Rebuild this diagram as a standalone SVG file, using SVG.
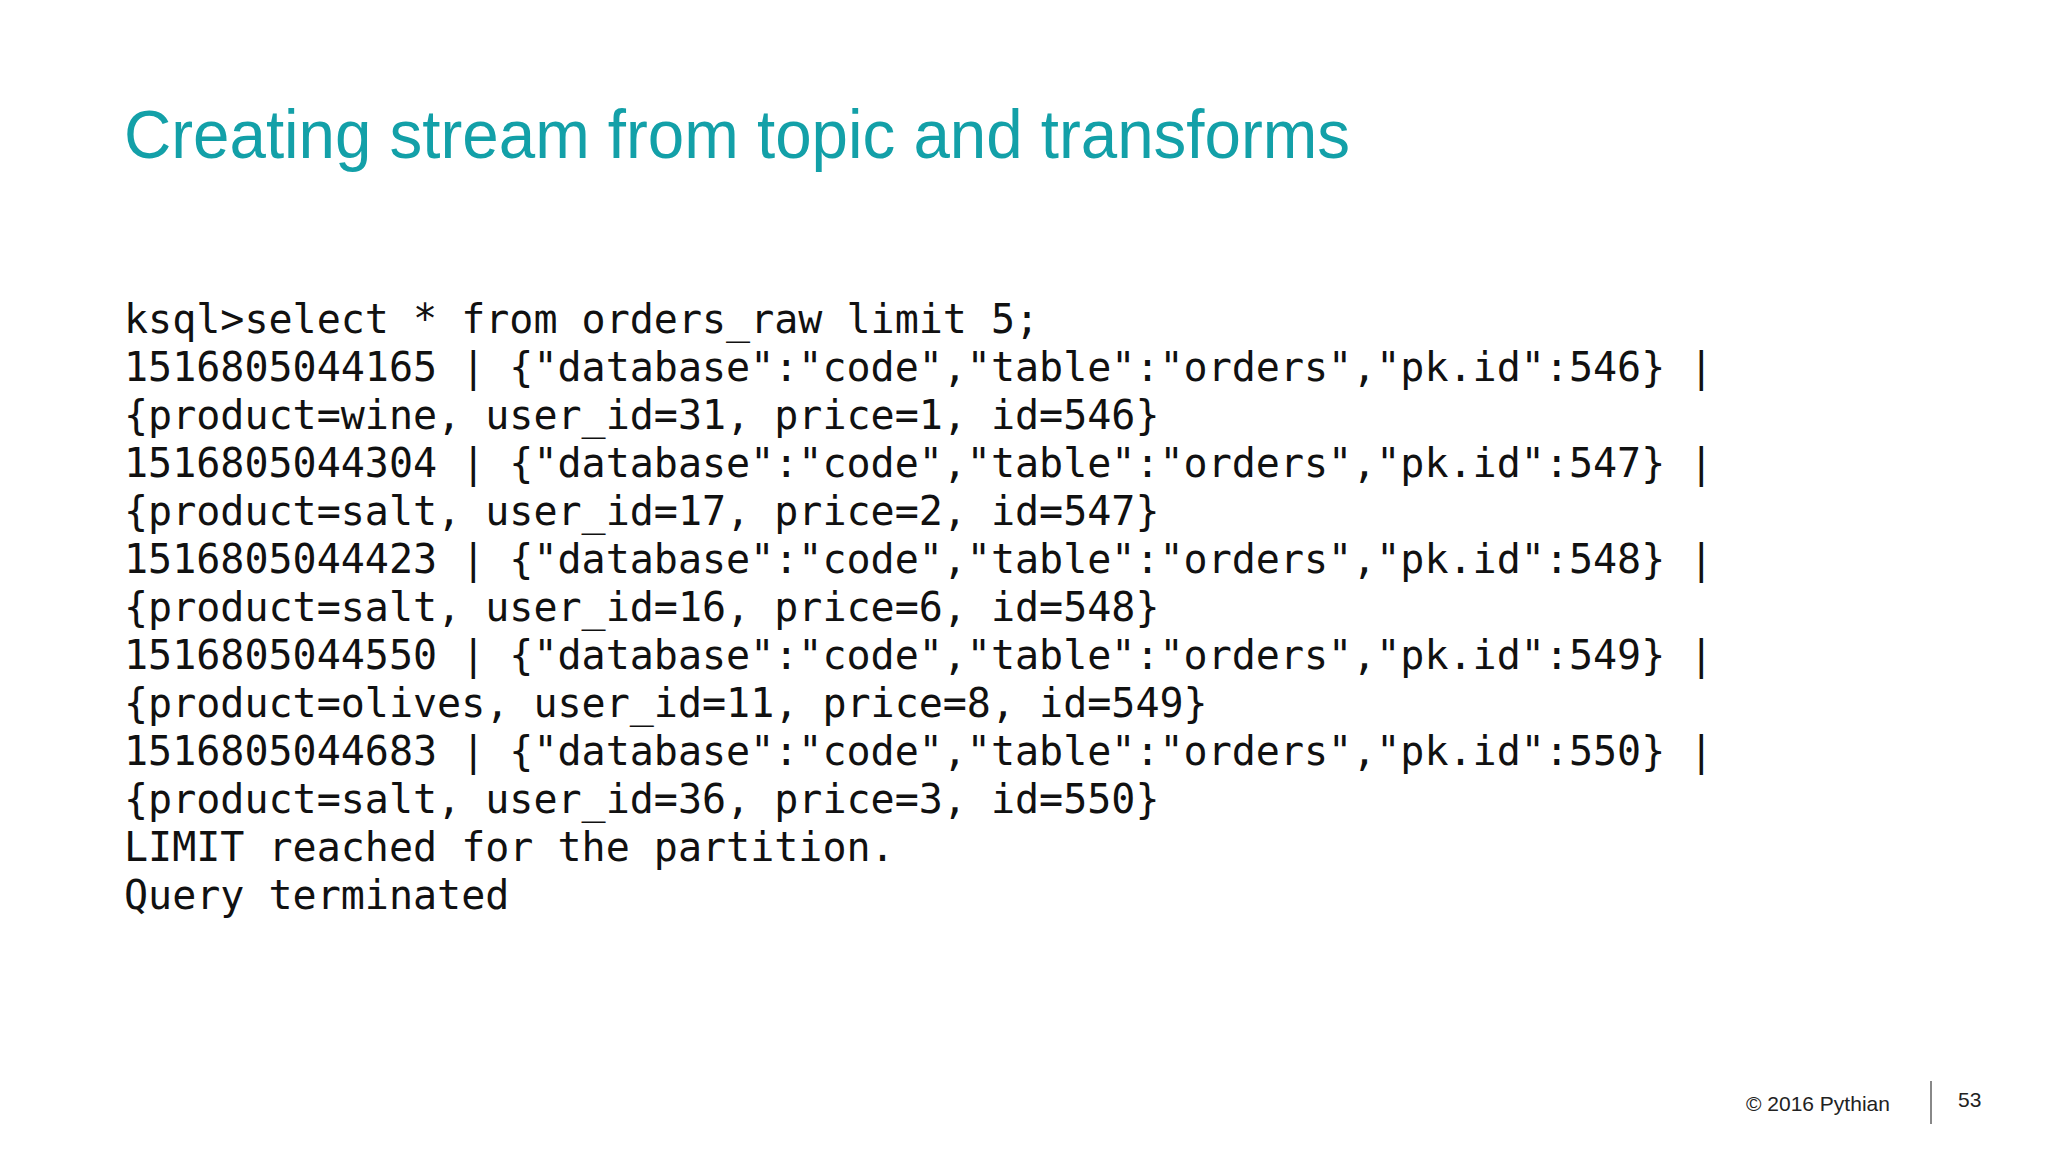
<svg xmlns="http://www.w3.org/2000/svg" width="2048" height="1152" viewBox="0 0 2048 1152">
<style>
.code{font-family:"DejaVu Sans Mono",monospace;font-size:40px;fill:#111}
.foot{font-family:"Liberation Sans",Arial,sans-serif;font-size:21px;fill:#222}
</style>
<rect width="2048" height="1152" fill="#fff"/>
<g id="title"><text x="124" y="158" font-family="Liberation Sans, Arial, sans-serif" font-size="68" fill="#13a0a8" textLength="1226" lengthAdjust="spacingAndGlyphs">Creating stream from topic and transforms</text></g>
<g id="code">
<text class="code" x="124" y="333">ksql&gt;select * from orders_raw limit 5;</text>
<text class="code" x="124" y="381">1516805044165 | {"database":"code","table":"orders","pk.id":546} |</text>
<text class="code" x="124" y="429">{product=wine, user_id=31, price=1, id=546}</text>
<text class="code" x="124" y="477">1516805044304 | {"database":"code","table":"orders","pk.id":547} |</text>
<text class="code" x="124" y="525">{product=salt, user_id=17, price=2, id=547}</text>
<text class="code" x="124" y="573">1516805044423 | {"database":"code","table":"orders","pk.id":548} |</text>
<text class="code" x="124" y="621">{product=salt, user_id=16, price=6, id=548}</text>
<text class="code" x="124" y="669">1516805044550 | {"database":"code","table":"orders","pk.id":549} |</text>
<text class="code" x="124" y="717">{product=olives, user_id=11, price=8, id=549}</text>
<text class="code" x="124" y="765">1516805044683 | {"database":"code","table":"orders","pk.id":550} |</text>
<text class="code" x="124" y="813">{product=salt, user_id=36, price=3, id=550}</text>
<text class="code" x="124" y="861">LIMIT reached for the partition.</text>
<text class="code" x="124" y="909">Query terminated</text>
</g>
<g id="footer">
<text class="foot" x="1746" y="1111">© 2016 Pythian</text>
<line x1="1931" y1="1081" x2="1931" y2="1124" stroke="#888" stroke-width="2"/>
<text class="foot" x="1958" y="1107">53</text>
</g>
</svg>
